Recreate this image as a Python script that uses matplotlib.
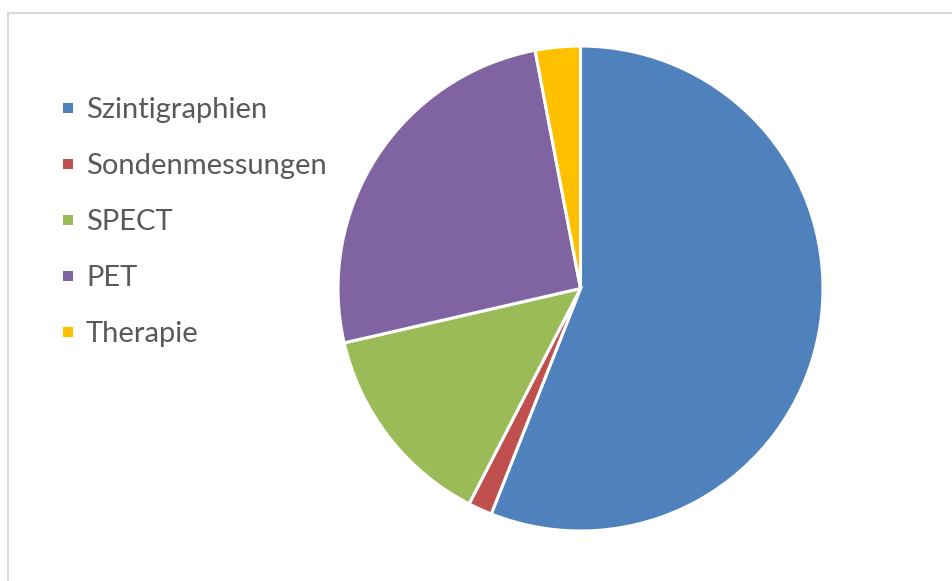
import matplotlib.pyplot as plt
from matplotlib.patches import Rectangle

# Procedure categories and their shares (percent)
categories = ["Szintigraphien", "Sondenmessungen", "SPECT", "PET", "Therapie"]
shares = [56.0, 1.6, 13.8, 25.6, 3.0]
colors = ["#4F81BD", "#C0504D", "#9BBB59", "#8064A2", "#FFC000"]

W, H, DPI = 952, 581, 100
fig = plt.figure(figsize=(W / DPI, H / DPI), dpi=DPI)
fig.patch.set_facecolor("white")

# Chart frame (open to the right and bottom)
frame = fig.add_axes([0, 0, 1, 1])
frame.set_xlim(0, W)
frame.set_ylim(H, 0)
frame.axis("off")
frame.plot([7.5, 7.5, W + 5], [H + 5, 12.5, 12.5], color="#D9D9D9", lw=1.5,
           solid_joinstyle="miter")

# Pie, clockwise from 12 o'clock
cx, cy, r = 580.5, 288.5, 242.5
ax = fig.add_axes([(cx - r) / W, 1 - (cy + r) / H, 2 * r / W, 2 * r / H])
ax.pie(shares, colors=colors, startangle=90, counterclock=False,
       wedgeprops=dict(edgecolor="white", linewidth=2.2))
ax.set_xlim(-1, 1)
ax.set_ylim(-1, 1)
ax.set_aspect("auto")
ax.axis("off")

# Legend on the left
font = dict(family=["Lato", "DejaVu Sans"], size=21, color="#595959")
y0, dy = 108, 56
for i, (name, col) in enumerate(zip(categories, colors)):
    y = y0 + i * dy
    frame.add_patch(Rectangle((63, y - 5), 10, 10, facecolor=col, edgecolor="none"))
    frame.text(86, y + 2, name, va="center", ha="left", **font)

fig.savefig("out.png", dpi=DPI, facecolor="white")
